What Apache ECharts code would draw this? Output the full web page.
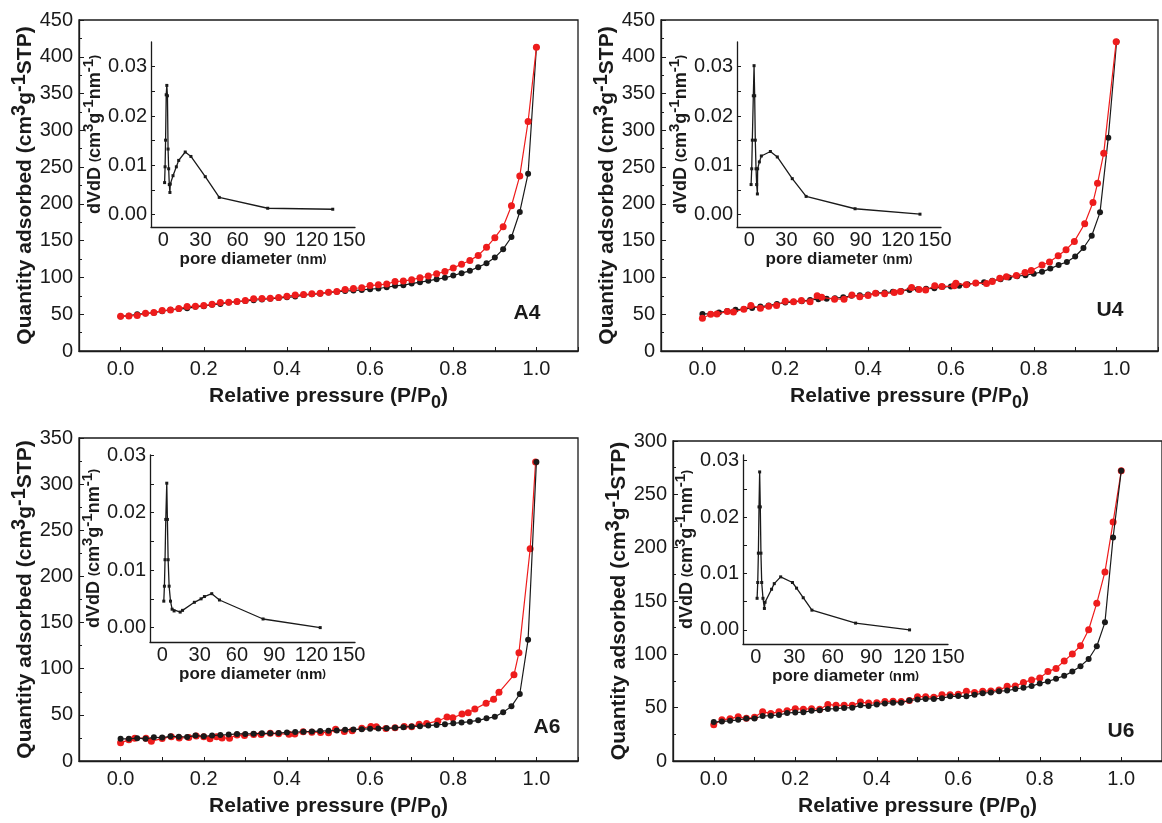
<!DOCTYPE html>
<html><head><meta charset="utf-8">
<script src="https://cdn.jsdelivr.net/npm/echarts@6/dist/echarts.min.js"></script>
<style>html,body{margin:0;padding:0;background:#fff}#c{width:1162px;height:823px}</style>
</head><body><div id="c"></div>
<script>
// ---------- data ----------
const pressureStep = [0,0.02,0.04,0.06,0.08,0.10,0.12,0.14,0.16,0.18,0.20,0.22,0.24,0.26,0.28,0.30,0.32,0.34,0.36,0.38,0.40,0.42,0.44,0.46,0.48,0.50,0.52,0.54,0.56,0.58,0.60,0.62,0.64,0.66,0.68,0.70,0.72,0.74,0.76,0.78,0.80,0.82,0.84,0.86,0.88,0.90,0.92,0.94,0.96,0.98,1.00];

const a4Black = [47,48,50,51,52,54,56,57,58,60,61,63,64,66,67,68,69,70,71,72,73,74,76,77,78,79.5,80.4,81.7,82.2,83,84,85,86.7,88.6,89.5,91.7,93.6,95.4,97.6,99.5,102.6,105.8,109,114,119.4,127,138.5,155,189,241,413];
const a4Red = [47.2,47.7,48.1,51.3,52.2,55,55.9,57.7,60.4,60.9,61.8,63.6,65.8,66.3,67.2,68.6,71,71.3,71.8,72.7,74.5,76,76.7,77.7,78.6,80,81,83.5,85,86,89,90,91,94.5,95,97,99.5,102,105,108,113,118,123,130,141,154,169,197.5,238,312,413];

const u4Black = [50.4,50.4,52.2,54.5,56,57,58.6,60.4,61.8,64,65.8,66.8,67.7,69.5,70.4,71,71.8,73,75,75.8,76.7,78.6,79.5,80.4,81.7,83,84,84.5,85.4,87.2,87.6,88.6,90.8,92.2,93.5,95.4,97.6,100,101.7,103,105,107.6,112,117,121,128.5,140,156.7,188.5,290,420.5];
const u4RedP = [0,0.02,0.035,0.06,0.075,0.1,0.117,0.14,0.16,0.179,0.2,0.22,0.239,0.26,0.277,0.288,0.319,0.342,0.361,0.38,0.4,0.418,0.44,0.463,0.478,0.505,0.523,0.539,0.561,0.578,0.608,0.612,0.637,0.66,0.686,0.7,0.718,0.734,0.758,0.779,0.794,0.82,0.838,0.859,0.878,0.898,0.923,0.943,0.954,0.969,0.999];
const u4RedQ = [44.5,50,50.4,53.6,53,56.8,62,58,61,62,67.7,67,68.6,67,75,73,70.4,70.4,76,73.6,75.4,78.6,77.7,79.5,80.8,86.3,83.6,83,88.6,87.6,88.6,92,90,92.6,91.7,94.5,99,101,102.6,106.7,109.4,117,121,129.4,137.6,149,173,202,228,269,420.5];

const a6Black = [24,24,24.7,24,25.7,25.4,26.8,26.4,26.1,27.5,26.8,27.5,28.2,28.6,29.3,29.3,29.6,30,30,30.3,31,31.4,31.7,32,32.4,32.8,33.1,33.8,34.2,34.5,34.9,35.2,35.6,36,36.7,37.4,37.7,38.4,39.1,39.8,40.9,41.6,42.6,44.1,46.2,47.9,52.9,59.2,72.6,131.5,324];
const a6RedP = [0,0.02,0.034,0.061,0.074,0.1,0.122,0.141,0.164,0.182,0.2,0.215,0.231,0.244,0.262,0.28,0.298,0.32,0.338,0.36,0.38,0.405,0.419,0.439,0.46,0.481,0.5,0.517,0.538,0.557,0.58,0.602,0.615,0.638,0.66,0.682,0.7,0.718,0.736,0.763,0.785,0.799,0.821,0.836,0.852,0.879,0.897,0.91,0.946,0.958,0.985,0.998];
const a6RedQ = [19.7,22.9,24.7,24.7,21.5,24.3,26.4,25,25.4,27.1,26.4,24,26.4,25,24.7,28.2,27.5,28.6,28.6,30,29.6,28.9,29.3,31.7,31.2,31,30.7,34.5,32,32.8,35.6,37.4,37,35.2,36,37.4,37,39.8,40.5,43.4,47.6,46.9,50.8,52.2,56.4,62.7,67,74.4,93.4,117.4,230,324];

const u6Black = [36.5,37.1,37.7,38.6,39.8,39.8,42.2,42.5,43.1,44.9,45.5,45.8,47,47.6,48.8,49.1,49.7,50,52.2,51.6,53,54,54.6,54.6,56.7,57.6,58.2,58.2,58.8,60.6,60.9,60.6,62.1,63.6,64.2,65.4,66,67.5,68.7,70.2,72.7,74.5,77.2,79.9,83.8,88.9,95.6,107.6,130,209.5,272];
const u6Red = [34,38.6,39.5,41.6,40,41,46.1,44.6,46.1,47,49.1,48.5,49.1,48.5,53,52.2,52.2,52.2,55.2,54.3,54.6,55.8,56.1,55.8,56.7,60.3,60.3,59.7,62.1,62.1,62.5,65.4,64.2,65.4,65.7,66.6,70,70.2,73.6,76,77.8,83.8,86.8,93.8,100.4,108,123,148,177.3,224,272];

// pore size distributions (insets)
const a4PoreD = [1.0,1.4,1.8,2.3,2.8,3.3,3.8,4.3,4.8,5.3,5.6,7.8,10.5,12.4,17.7,22.3,33.9,45.2,84.4,137];
const a4PoreV = [0.0065,0.0097,0.0151,0.0243,0.0262,0.0241,0.0133,0.0093,0.0061,0.0045,0.0062,0.0079,0.0097,0.011,0.0127,0.0118,0.0077,0.0035,0.0013,0.0011];
const u4PoreD = [1.4,1.9,2.4,3.2,3.8,4.3,4.8,5.4,5.9,6.5,6.7,8.1,9.7,17,22.6,34.7,45.9,85.5,138];
const u4PoreV = [0.0061,0.0093,0.0151,0.0241,0.0302,0.0241,0.0151,0.0093,0.0061,0.0042,0.0093,0.0107,0.0119,0.0128,0.0117,0.0073,0.0037,0.0012,0.0001];
const a6PoreD = [1.1,1.6,2.1,2.7,3.5,4.0,4.6,5.4,6.5,7.8,9.4,14.3,16.2,25.7,31.1,33.8,39.7,45.9,81,127];
const a6PoreV = [0.0046,0.0072,0.0118,0.0188,0.0251,0.0188,0.0118,0.0072,0.0046,0.0032,0.0029,0.0027,0.0030,0.0044,0.0050,0.0054,0.0059,0.0048,0.0015,0.0000];
const u6PoreD = [1.0,1.5,2.0,2.5,3.0,3.5,4.0,4.6,5.6,6.7,7.2,12.3,14.4,19.4,28.6,31.8,37,43.8,77.9,120];
const u6PoreV = [0.0056,0.0084,0.0136,0.0218,0.0280,0.0218,0.0136,0.0084,0.0056,0.0038,0.0049,0.0072,0.0082,0.0094,0.0084,0.0074,0.0057,0.0035,0.0012,0.0000];

// tick labels
const pressureTicks = [0,0.2,0.4,0.6,0.8,1.0];
const poreTicks = [0,30,60,90,120,150];
const dvTicks = [0,0.01,0.02,0.03];
const dvTickMarks = [0,0.005,0.01,0.015,0.02,0.025,0.03];
const panelNames = ['A4','U4','A6','U6'];
const qtyMax = [450,450,350,300];

// ---------- chart ----------
const F = "'Liberation Sans', Arial, Helvetica, sans-serif";
const INK = '#1a1a1a';
const RED = '#ee1c1c';

const mainRich = {
  t:{fontSize:21,fontWeight:'bold',color:INK,fontFamily:F,lineHeight:32},
  sup:{fontSize:20,fontWeight:'bold',color:INK,fontFamily:F,verticalAlign:'top',lineHeight:20},
  sub:{fontSize:18,fontWeight:'bold',color:INK,fontFamily:F,verticalAlign:'bottom',lineHeight:18}
};
const insetRich = {
  b:{fontSize:18,fontWeight:'bold',color:INK,fontFamily:F,lineHeight:28},
  p:{fontSize:12,fontWeight:'bold',color:INK,fontFamily:F,lineHeight:28},
  n:{fontSize:15,fontWeight:'bold',color:INK,fontFamily:F,lineHeight:28},
  sup:{fontSize:15,fontWeight:'bold',color:INK,fontFamily:F,verticalAlign:'top',lineHeight:15}
};
const insetXRich = {
  b:{fontSize:17,fontWeight:'bold',color:INK,fontFamily:F,lineHeight:24},
  p:{fontSize:11,fontWeight:'bold',color:INK,fontFamily:F,lineHeight:24},
  n:{fontSize:15,fontWeight:'bold',color:INK,fontFamily:F,lineHeight:24}
};

const mainGrids = [
  {left:79, top:20, width:499, height:331},
  {left:661, top:20, width:497, height:331},
  {left:79, top:438, width:499, height:329},
  {left:673, top:441, width:498, height:327}
];
const insetGrids = [
  {left:151, top:42, width:204, height:185},
  {left:737, top:42, width:204, height:185},
  {left:150, top:455, width:205, height:187},
  {left:743, top:455, width:205, height:189}
];
const insetXMax = [155,155,155,150];
const insetYRange = [[-0.0025,0.035],[-0.0025,0.035],[-0.0025,0.030],[-0.0025,0.031]];
const panelLabelPos = [[527,313],[1110,310],[547,727],[1121,731]];

const grid = [], xAxis = [], yAxis = [], series = [], graphic = [];
const lineAx = {show:true,onZero:false,lineStyle:{color:INK,width:1.3}};

mainGrids.forEach((g,i)=>{
  grid.push(Object.assign({show:true,borderColor:INK,borderWidth:1.3,containLabel:false},g));
  xAxis.push({gridIndex:i,type:'value',min:-0.1,max:1.1,interval:0.1,
    axisLine:lineAx,axisTick:{inside:true,length:4,lineStyle:{color:INK}},
    axisLabel:{customValues:pressureTicks,
      formatter:v=>pressureTicks.some(t=>Math.abs(t-v)<1e-6)?v.toFixed(1):'',
      fontSize:20,color:INK,fontFamily:F,margin:8},
    splitLine:{show:false},
    name:'{t|Relative pressure (P/P}{sub|0}{t|)}',nameLocation:'middle',nameGap:29,
    nameTextStyle:{rich:mainRich}});
  yAxis.push({gridIndex:i,type:'value',min:0,max:qtyMax[i],interval:50,
    axisLine:lineAx,axisTick:{inside:true,length:5,lineStyle:{color:INK}},
    minorTick:{show:true,splitNumber:2,length:3,lineStyle:{color:INK}},
    axisLabel:{fontSize:20,color:INK,fontFamily:F,margin:6},
    splitLine:{show:false},minorSplitLine:{show:false},
    name:'{t|Quantity adsorbed (cm}{sup|3}{t|g}{sup|-1}{t|STP)}',nameLocation:'middle',nameGap:37,nameRotate:90,
    nameTextStyle:{rich:mainRich}});
});
insetGrids.forEach((g,k)=>{
  grid.push(Object.assign({show:false},g));
  const gi = 4+k;
  xAxis.push({gridIndex:gi,type:'value',min:-10,max:insetXMax[k],
    axisLine:lineAx,axisTick:{show:false},
    axisLabel:{customValues:poreTicks,fontSize:20,color:INK,fontFamily:F,margin:3,hideOverlap:false},
    splitLine:{show:false},
    name:'{b|pore diameter }{p|(}{n|nm}{p|)}',nameLocation:'middle',nameGap:20,
    nameTextStyle:{rich:insetXRich}});
  yAxis.push({gridIndex:gi,type:'value',min:insetYRange[k][0],max:insetYRange[k][1],
    axisLine:lineAx,axisTick:{inside:true,length:4,customValues:dvTickMarks,lineStyle:{color:INK}},
    axisLabel:{customValues:dvTicks,formatter:v=>v.toFixed(2),fontSize:20,color:INK,fontFamily:F,margin:4},
    splitLine:{show:false},
    name:'{b|dVdD }{p|(}{b|cm}{sup|3}{b|g}{sup|-1}{b|nm}{sup|-1}{p|)}',nameLocation:'middle',nameGap:42,nameRotate:90,
    nameTextStyle:{rich:insetRich}});
});

function pairs(xs,ys){return xs.map((x,i)=>[x,ys[i]]);}
function iso(gi,data,color,size,z){
  series.push({type:'line',xAxisIndex:gi,yAxisIndex:gi,data,symbol:'circle',symbolSize:size,
    itemStyle:{color},lineStyle:{color,width:1.2},z,silent:true});
}
iso(0,pairs(pressureStep,a4Black),INK,6,3);
iso(0,pairs(pressureStep,a4Red),RED,7,4);
iso(1,pairs(pressureStep,u4Black),INK,6,3);
iso(1,pairs(u4RedP,u4RedQ),RED,7,4);
iso(2,pairs(pressureStep,a6Black),INK,6,4);
iso(2,pairs(a6RedP,a6RedQ),RED,7,3);
iso(3,pairs(pressureStep,u6Black),INK,6,4);
iso(3,pairs(pressureStep,u6Red),RED,7,3);

[[a4PoreD,a4PoreV],[u4PoreD,u4PoreV],[a6PoreD,a6PoreV],[u6PoreD,u6PoreV]].forEach((d,k)=>{
  series.push({type:'line',xAxisIndex:4+k,yAxisIndex:4+k,data:pairs(d[0],d[1]),
    symbol:'rect',symbolSize:3,itemStyle:{color:INK},lineStyle:{color:INK,width:1.3},z:5,silent:true});
});

panelNames.forEach((n,i)=>{
  graphic.push({type:'text',x:panelLabelPos[i][0],y:panelLabelPos[i][1],
    style:{text:n,font:"bold 21px "+F,fill:INK,align:'center',verticalAlign:'middle'}});
});

const chart = echarts.init(document.getElementById('c'),null,{renderer:'canvas'});
chart.setOption({animation:false,backgroundColor:'#fff',grid,xAxis,yAxis,series,graphic});
</script></body></html>
